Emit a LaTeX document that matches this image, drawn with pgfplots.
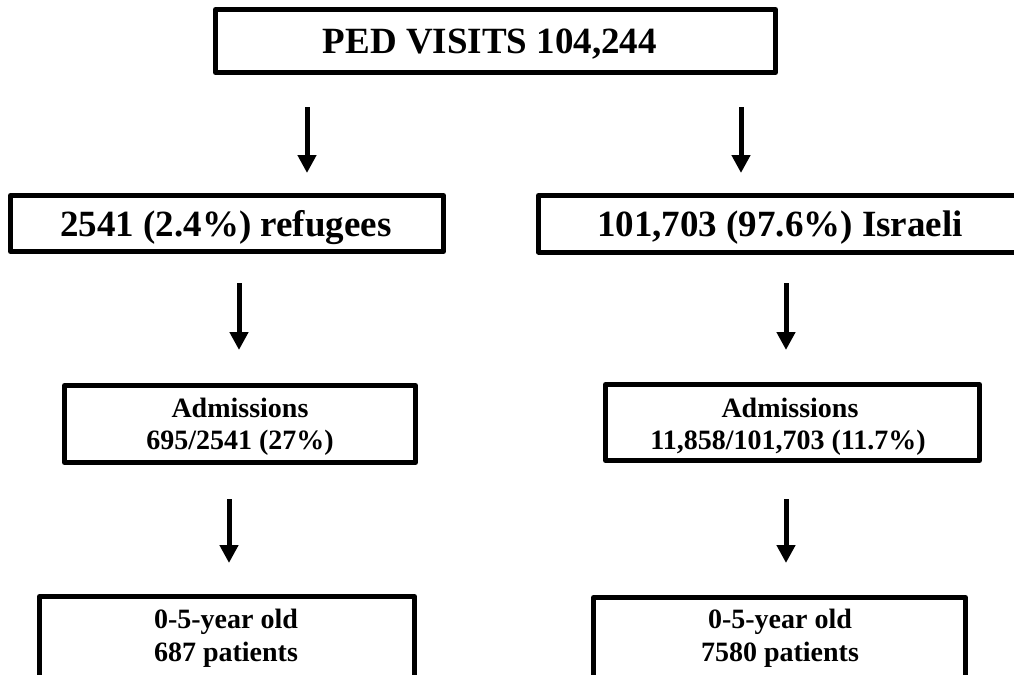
\documentclass[border=0pt]{standalone}
\usepackage{pgfplots}
\pgfplotsset{compat=1.18}
\usepackage{fontspec}
\setmainfont{Liberation Serif}
\usetikzlibrary{arrows.meta}
\begin{document}
\begin{tikzpicture}
\begin{axis}[
  scale only axis, width=507pt, height=337.5pt,
  xmin=0, xmax=1014, ymin=0, ymax=675, y dir=reverse,
  hide axis, clip=true,
]
% boxes (pixel coordinates of the line centres)
\addplot[black, line width=2.5pt, line join=round] coordinates {(215.5,9.5) (775.5,9.5) (775.5,72.5) (215.5,72.5)} -- cycle;
\addplot[black, line width=2.5pt, line join=round] coordinates {(10.5,195.5) (443.5,195.5) (443.5,251.5) (10.5,251.5)} -- cycle;
\addplot[black, line width=2.5pt, line join=round] coordinates {(538.5,195.5) (1040,195.5) (1040,252) (538.5,252)} -- cycle;
\addplot[black, line width=2.5pt, line join=round] coordinates {(64.5,385.5) (415.5,385.5) (415.5,462.5) (64.5,462.5)} -- cycle;
\addplot[black, line width=2.5pt, line join=round] coordinates {(605.5,384.5) (979.5,384.5) (979.5,460.5) (605.5,460.5)} -- cycle;
\addplot[black, line width=2.5pt, line join=round] coordinates {(39.5,596.5) (414.5,596.5) (414.5,710) (39.5,710)} -- cycle;
\addplot[black, line width=2.5pt, line join=round] coordinates {(593.5,597.5) (965.5,597.5) (965.5,710) (593.5,710)} -- cycle;
% arrows
\addplot[black, line width=2.5pt, -{Triangle[width=9pt,length=9pt]}] coordinates {(307,107) (307,173)};
\addplot[black, line width=2.5pt, -{Triangle[width=9pt,length=9pt]}] coordinates {(741,107) (741,173)};
\addplot[black, line width=2.5pt, -{Triangle[width=9pt,length=9pt]}] coordinates {(239,283) (239,350)};
\addplot[black, line width=2.5pt, -{Triangle[width=9pt,length=9pt]}] coordinates {(786,283) (786,350)};
\addplot[black, line width=2.5pt, -{Triangle[width=9pt,length=9pt]}] coordinates {(229,499) (229,563)};
\addplot[black, line width=2.5pt, -{Triangle[width=9pt,length=9pt]}] coordinates {(786,499) (786,563)};
% texts
\node[anchor=base, inner sep=0pt, font=\fontsize{18.5}{22}\selectfont\bfseries] at (axis cs:490,53) {PED VISITS 104,244};
\node[anchor=base, inner sep=0pt, font=\fontsize{18.5}{22}\selectfont\bfseries] at (axis cs:226,236) {2541 (2.4\%) refugees};
\node[anchor=base, inner sep=0pt, font=\fontsize{18.5}{22}\selectfont\bfseries] at (axis cs:780,236) {101,703 (97.6\%) Israeli};
\node[anchor=base, inner sep=0pt, font=\fontsize{14}{17}\selectfont\bfseries] at (axis cs:240,417) {Admissions};
\node[anchor=base, inner sep=0pt, font=\fontsize{14}{17}\selectfont\bfseries] at (axis cs:240,449) {695/2541 (27\%)};
\node[anchor=base, inner sep=0pt, font=\fontsize{14}{17}\selectfont\bfseries] at (axis cs:790,417) {Admissions};
\node[anchor=base, inner sep=0pt, font=\fontsize{14}{17}\selectfont\bfseries] at (axis cs:788,449) {11,858/101,703 (11.7\%)};
\node[anchor=base, inner sep=0pt, font=\fontsize{14}{17}\selectfont\bfseries] at (axis cs:226,628) {0-5-year old};
\node[anchor=base, inner sep=0pt, font=\fontsize{14}{17}\selectfont\bfseries] at (axis cs:226,661) {687 patients};
\node[anchor=base, inner sep=0pt, font=\fontsize{14}{17}\selectfont\bfseries] at (axis cs:780,628) {0-5-year old};
\node[anchor=base, inner sep=0pt, font=\fontsize{14}{17}\selectfont\bfseries] at (axis cs:780,661) {7580 patients};
\end{axis}
\pgfresetboundingbox
\useasboundingbox (0,0) rectangle (507pt,337.5pt);
\end{tikzpicture}
\end{document}
